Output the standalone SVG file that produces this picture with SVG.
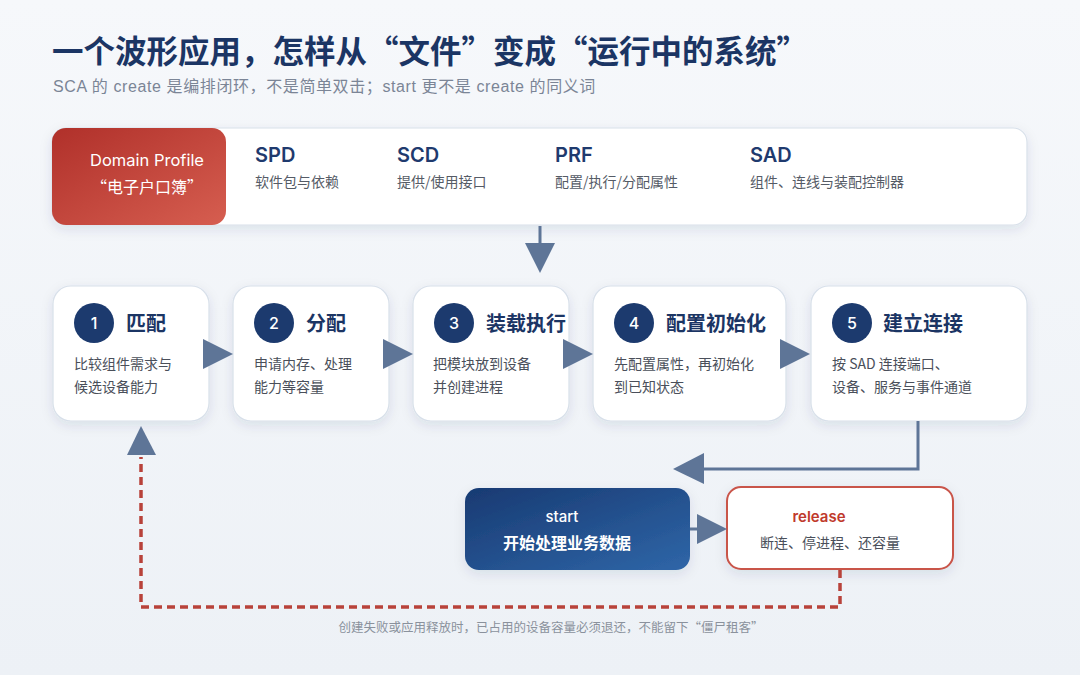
<svg xmlns="http://www.w3.org/2000/svg" width="1080" height="675" viewBox="0 0 1080 675">
<defs>
<linearGradient id="bg" x1="0" y1="0" x2="0" y2="1"><stop offset="0" stop-color="#f6f8fb"/><stop offset="1" stop-color="#edf1f6"/></linearGradient>
<linearGradient id="red" x1="0" y1="0" x2="1" y2="1"><stop offset="0" stop-color="#b0302a"/><stop offset="1" stop-color="#d65e50"/></linearGradient>
<linearGradient id="blue" x1="0" y1="0" x2="1" y2="1"><stop offset="0" stop-color="#183a72"/><stop offset="1" stop-color="#2f66a8"/></linearGradient>
<filter id="sh" x="-20%" y="-20%" width="140%" height="150%"><feDropShadow dx="0" dy="4" stdDeviation="6" flood-color="#1b3564" flood-opacity="0.10"/></filter>
<style>
.cjk{font-family:"Noto Sans CJK SC","Noto Sans",sans-serif}
.mix{font-family:"Liberation Sans","Noto Sans CJK SC",sans-serif}
.lat{font-family:"Inter","Noto Sans CJK SC",sans-serif}
.card{fill:#ffffff;stroke:#d8e0ea;stroke-width:1.2;filter:url(#sh)}
.num{fill:#1c3a6e}
.numt{fill:#ffffff;font-size:16px;font-weight:500;text-anchor:middle}
.st{fill:#1b3564;font-size:20px;font-weight:700}
.desc{fill:#4a4f5a;font-size:14px}
.ab{font-size:20px;font-weight:600;fill:#1f3a6e}
.as{font-size:14px;fill:#555b66}
.arr{fill:#5e7597}
.ln{stroke:#5e7597;stroke-width:3;fill:none}
.dash{stroke:#b8423a;stroke-width:3.5;fill:none;stroke-dasharray:8 5}
</style>
</defs>
<rect width="1080" height="675" fill="url(#bg)"/>

<text x="52" y="63" class="cjk" font-size="31.5" font-weight="700" fill="#1b3564">一个波形应用，怎样从“文件”变成“运行中的系统”</text>
<text x="53" y="92" class="mix" font-size="16" letter-spacing="0.6" fill="#7b8596">SCA 的 create 是编排闭环，不是简单双击；start 更不是 create 的同义词</text>

<g id="domain-profile">
<rect x="52" y="128" width="975" height="97" rx="14" class="card"/>
<rect x="52" y="128" width="174" height="97" rx="14" fill="url(#red)"/>
<text x="147" y="166" class="lat" font-size="16.5" fill="#ffffff" text-anchor="middle">Domain Profile</text>
<text x="147" y="193" class="cjk" font-size="16" fill="#ffffff" text-anchor="middle">“电子户口簿”</text>
<text x="255" y="162" class="lat ab">SPD</text>
<text x="255" y="187" class="cjk as">软件包与依赖</text>
<text x="397" y="162" class="lat ab">SCD</text>
<text x="397" y="187" class="cjk as">提供/使用接口</text>
<text x="555" y="162" class="lat ab">PRF</text>
<text x="555" y="187" class="cjk as">配置/执行/分配属性</text>
<text x="750" y="162" class="lat ab">SAD</text>
<text x="750" y="187" class="cjk as">组件、连线与装配控制器</text>
</g>

<g id="step1">
<rect x="53" y="286" width="156" height="135" rx="18" class="card"/>
<circle cx="94" cy="323" r="20" class="num"/>
<text x="94" y="329" class="lat numt">1</text>
<text x="126" y="331" class="cjk st">匹配</text>
<text x="74" y="369" class="cjk desc">比较组件需求与</text>
<text x="74" y="392" class="cjk desc">候选设备能力</text>
</g>
<g id="step2">
<rect x="233" y="286" width="156" height="135" rx="18" class="card"/>
<circle cx="274" cy="323" r="20" class="num"/>
<text x="274" y="329" class="lat numt">2</text>
<text x="306" y="331" class="cjk st">分配</text>
<text x="254" y="369" class="cjk desc">申请内存、处理</text>
<text x="254" y="392" class="cjk desc">能力等容量</text>
</g>
<g id="step3">
<rect x="413" y="286" width="156" height="135" rx="18" class="card"/>
<circle cx="454" cy="323" r="20" class="num"/>
<text x="454" y="329" class="lat numt">3</text>
<text x="486" y="331" class="cjk st">装载执行</text>
<text x="433" y="369" class="cjk desc">把模块放到设备</text>
<text x="433" y="392" class="cjk desc">并创建进程</text>
</g>
<g id="step4">
<rect x="593" y="286" width="193" height="135" rx="18" class="card"/>
<circle cx="634" cy="323" r="20" class="num"/>
<text x="634" y="329" class="lat numt">4</text>
<text x="666" y="331" class="cjk st">配置初始化</text>
<text x="614" y="369" class="cjk desc">先配置属性，再初始化</text>
<text x="614" y="392" class="cjk desc">到已知状态</text>
</g>
<g id="step5">
<rect x="811" y="286" width="216" height="135" rx="18" class="card"/>
<circle cx="852" cy="323" r="20" class="num"/>
<text x="852" y="329" class="lat numt">5</text>
<text x="883" y="331" class="cjk st">建立连接</text>
<text x="832" y="369" class="cjk desc">按 SAD 连接端口、</text>
<text x="832" y="392" class="cjk desc">设备、服务与事件通道</text>
</g>

<g id="start">
<rect x="465" y="488" width="225" height="82" rx="14" fill="url(#blue)" filter="url(#sh)"/>
<text x="562" y="522" class="lat" font-size="15" font-weight="500" fill="#ffffff" text-anchor="middle">start</text>
<text x="567" y="549" class="cjk" font-size="16" font-weight="700" fill="#ffffff" text-anchor="middle">开始处理业务数据</text>
</g>
<g id="release">
<rect x="727" y="487" width="226" height="82" rx="14" fill="#ffffff" stroke="#c9544a" stroke-width="2" filter="url(#sh)"/>
<text x="819" y="522" class="lat" font-size="15" font-weight="600" fill="#c0392b" text-anchor="middle">release</text>
<text x="830" y="548" class="cjk" font-size="14" fill="#4a4f5a" text-anchor="middle">断连、停进程、还容量</text>
</g>

<g id="connectors">
<line x1="540" y1="226" x2="540" y2="246" class="ln"/>
<polygon points="525,243 555,243 540,273" class="arr"/>
<polygon points="203,339 233,354 203,369" class="arr"/>
<polygon points="383,339 413,354 383,369" class="arr"/>
<polygon points="563,339 593,354 563,369" class="arr"/>
<polygon points="780,339 810,354 780,369" class="arr"/>
<polyline points="918,421 918,469 700,469" class="ln"/>
<polygon points="673,469 704,453 704,484" class="arr"/>
<line x1="690" y1="529" x2="700" y2="529" class="ln"/>
<polygon points="697,514 727,529 697,544" class="arr"/>
<polyline points="840,570 840,607 141,607 141,457" class="dash"/>
<polygon points="141,426 156,455 127,455" class="arr"/>
</g>

<text x="551" y="632" class="cjk" font-size="12.5" fill="#8a919c" text-anchor="middle">创建失败或应用释放时，已占用的设备容量必须退还，不能留下“僵尸租客”</text>
</svg>
